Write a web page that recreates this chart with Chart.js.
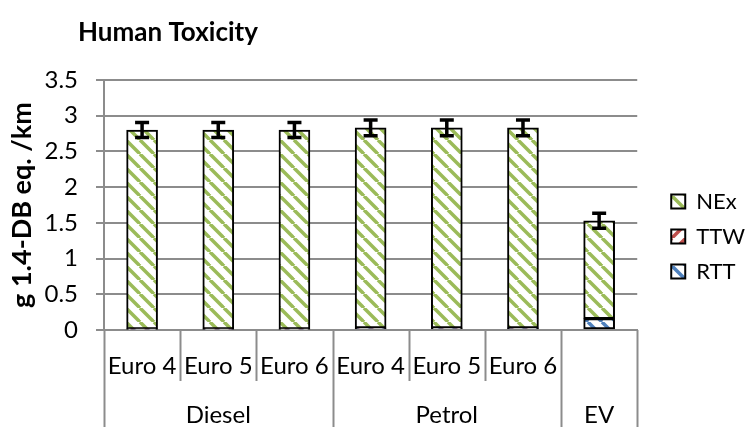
<!DOCTYPE html>
<html>
<head>
<meta charset="utf-8">
<script src="https://cdn.jsdelivr.net/npm/chart.js@4.4.1/dist/chart.umd.min.js"></script>
<style>
  html, body { margin: 0; padding: 0; background: #fff; }
  #wrap { width: 748px; height: 427px; position: relative; }
</style>
</head>
<body>
<div id="wrap"><canvas id="chart" width="748" height="427"></canvas></div>
<script>
// categories and groups
const categories = ["Euro 4", "Euro 5", "Euro 6", "Euro 4", "Euro 5", "Euro 6", ""];
const groups = ["Diesel", "Petrol", "EV"];
const groupSizes = [3, 3, 1];

// series (g 1.4-DB eq. /km)
const rtt = [0.01, 0.01, 0.01, 0.02, 0.02, 0.02, 0.16];
const ttw = [0.005, 0.005, 0.005, 0.01, 0.01, 0.01, 0];
const nex = [2.785, 2.785, 2.785, 2.80, 2.80, 2.80, 1.37];
const errors = [0.105, 0.105, 0.105, 0.11, 0.11, 0.11, 0.105];

const yTicks = [0, 0.5, 1, 1.5, 2, 2.5, 3, 3.5];

const gridColor = "#8c8c8c";
const font = "Lato";

// diagonal hatch; up = true gives "/" stripes, otherwise "\"
function hatch(color, up) {
  const size = 14;
  const c = document.createElement("canvas");
  c.width = size; c.height = size;
  const g = c.getContext("2d");
  g.fillStyle = "#fff";
  g.fillRect(0, 0, size, size);
  g.strokeStyle = color;
  g.lineWidth = 3.5;
  for (let o = -size; o <= size; o += size) {
    g.beginPath();
    if (up) {
      g.moveTo(o, size);
      g.lineTo(o + size, 0);
    } else {
      g.moveTo(o, 0);
      g.lineTo(o + size, size);
    }
    g.stroke();
  }
  return g.createPattern(c, "repeat");
}

const ctx = document.getElementById("chart").getContext("2d");

const extras = {
  id: "extras",
  afterLayout(chart) {
    // nudge legend to where it sits in the original
    const lg = chart.legend;
    lg.left += 21; lg.right += 21;
    lg.top -= 17; lg.bottom -= 17;
  },
  afterDatasetsDraw(chart) {
    const c = chart.ctx, x = chart.scales.x, y = chart.scales.y;
    c.save();
    c.strokeStyle = "#000";
    c.lineWidth = 3.5;
    categories.forEach((cat, i) => {
      const total = rtt[i] + ttw[i] + nex[i];
      const px = x.getPixelForValue(i);
      const hi = y.getPixelForValue(total + errors[i]);
      const lo = y.getPixelForValue(total - errors[i]);
      c.beginPath();
      c.moveTo(px, hi); c.lineTo(px, lo);
      c.moveTo(px - 7, hi); c.lineTo(px + 7, hi);
      c.moveTo(px - 7, lo); c.lineTo(px + 7, lo);
      c.stroke();
    });
    c.restore();
  },
  afterDraw(chart) {
    const c = chart.ctx, x = chart.scales.x;
    const half = (x.getPixelForValue(1) - x.getPixelForValue(0)) / 2;
    const top = chart.chartArea.bottom;
    // group boundaries
    const bounds = [0];
    groupSizes.forEach(s => bounds.push(bounds[bounds.length - 1] + s));
    c.save();
    c.strokeStyle = gridColor;
    c.lineWidth = 2;
    for (let i = 0; i <= categories.length; i++) {
      const px = Math.round(x.getPixelForValue(i) - half) + 0.5;
      const full = bounds.includes(i);
      c.beginPath();
      c.moveTo(px, top);
      c.lineTo(px, full ? chart.height : top + 51);
      c.stroke();
    }
    c.fillStyle = "#000";
    c.font = "24px " + font;
    c.textAlign = "center";
    c.textBaseline = "middle";
    groups.forEach((g, gi) => {
      const a = x.getPixelForValue(bounds[gi]) - half;
      const b = x.getPixelForValue(bounds[gi + 1] - 1) + half;
      c.fillText(g, (a + b) / 2, 415);
    });
    c.font = "bold 26px " + font;
    c.textAlign = "left";
    c.fillText("Human Toxicity", 78, 33);
    c.restore();
  }
};

new Chart(ctx, {
  type: "bar",
  data: {
    labels: categories,
    datasets: [
      { label: "RTT", data: rtt, backgroundColor: hatch("#4f81bd", false), borderColor: "#000", borderWidth: 2, borderSkipped: false },
      { label: "TTW", data: ttw, backgroundColor: hatch("#c0504d", true), borderColor: "#000", borderWidth: 2, borderSkipped: false },
      { label: "NEx", data: nex, backgroundColor: hatch("#9bbb59", false), borderColor: "#000", borderWidth: 2, borderSkipped: false }
    ]
  },
  options: {
    responsive: false,
    animation: false,
    barThickness: 31,
    layout: { padding: { top: 80, right: 14, left: 0, bottom: 0 } },
    plugins: {
      legend: {
        position: "right",
        reverse: true,
        labels: {
          boxWidth: 14,
          boxHeight: 14,
          padding: 13,
          color: "#000",
          font: { family: font, size: 22 }
        }
      },
      tooltip: { enabled: false }
    },
    scales: {
      x: {
        stacked: true,
        grid: { display: false },
        border: { color: gridColor, width: 2 },
        ticks: {
          color: "#000",
          font: { family: font, size: 24 },
          maxRotation: 0,
          autoSkip: false,
          padding: 14
        },
        afterFit(scale) { scale.height = 97; }
      },
      y: {
        stacked: true,
        min: 0,
        max: 3.5,
        afterBuildTicks(scale) { scale.ticks = yTicks.map(v => ({ value: v })); },
        grid: { color: gridColor, lineWidth: 2, tickLength: 8 },
        border: { color: gridColor, width: 2 },
        ticks: {
          color: "#000",
          font: { family: font, size: 24 },
          padding: 18,
          callback: v => String(v)
        },
        title: {
          display: true,
          text: "g 1.4-DB eq. /km",
          color: "#000",
          font: { family: font, size: 27, weight: "bold" },
          padding: { top: 6, bottom: 0 }
        },
        afterFit(scale) { scale.width = 104; }
      }
    }
  },
  plugins: [extras]
});
</script>
</body>
</html>
